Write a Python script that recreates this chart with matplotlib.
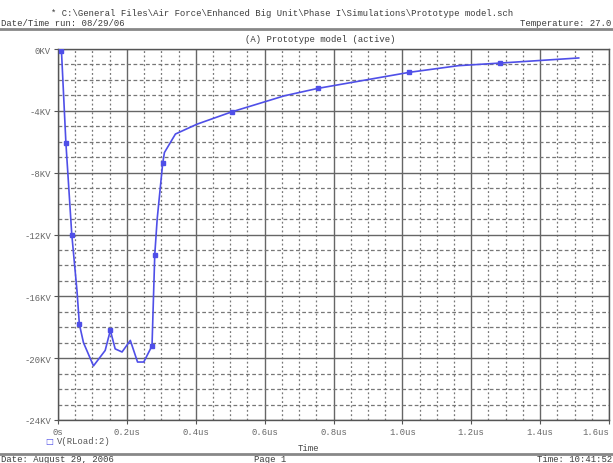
import matplotlib.pyplot as plt
from matplotlib.ticker import MultipleLocator, FuncFormatter

# V(RLoad:2), time in us, voltage in kV
t_us = [0.005, 0.010, 0.023, 0.040, 0.055, 0.062, 0.074, 0.103, 0.137, 0.152,
        0.166, 0.186, 0.210, 0.231, 0.249, 0.273, 0.281, 0.288, 0.304, 0.309,
        0.341, 0.404, 0.504, 0.657, 0.754, 1.020, 1.162, 1.284, 1.512]
v_kv = [0.0, -0.1, -6.1, -12.0, -15.6, -17.8, -19.0, -20.5, -19.5, -18.2,
        -19.4, -19.6, -18.85, -20.25, -20.25, -19.2, -13.3, -11.0, -7.4, -6.7,
        -5.5, -4.86, -4.07, -3.03, -2.55, -1.51, -1.08, -0.91, -0.58]
marker_idx = [1, 2, 3, 5, 9, 15, 16, 18, 22, 24, 25, 27]

x_ticks = [0, 0.2, 0.4, 0.6, 0.8, 1.0, 1.2, 1.4, 1.6]
y_ticks = [0, -4, -8, -12, -16, -20, -24]

mono = "Liberation Mono"
fs = 6.4
blue = "#4f4fe8"
txt = "#3a3a3a"

fig = plt.figure(figsize=(6.13, 4.64), dpi=100)
ax = fig.add_axes([58 / 613, 1 - 421 / 464, 551 / 613, 371 / 464])

ax.plot(t_us, v_kv, color=blue, lw=1.2, marker="s", ms=3,
        markevery=marker_idx, mfc=blue, mec=blue, zorder=3)

ax.set_xlim(0, 1.6)
ax.set_ylim(-24, 0)
ax.set_xticks(x_ticks)
ax.set_yticks(y_ticks)
ax.xaxis.set_minor_locator(MultipleLocator(0.05))
ax.yaxis.set_minor_locator(MultipleLocator(1))
ax.xaxis.set_major_formatter(FuncFormatter(lambda v, p: "0s" if v == 0 else f"{v:.1f}us"))
ax.yaxis.set_major_formatter(FuncFormatter(lambda v, p: f"{v:.0f}KV"))

ax.grid(which="major", color="#666666", lw=1.0, ls="-")
ax.grid(which="minor", axis="y", color="#777777", lw=0.9, ls=(0, (3, 2)))
ax.grid(which="minor", axis="x", color="#777777", lw=0.9, ls=(0, (1.5, 2)))
ax.set_axisbelow(True)

for s in ax.spines.values():
    s.set_color("#555555")
    s.set_linewidth(1.0)
ax.tick_params(which="major", length=3, width=0.8, color="#555555",
               labelsize=fs, labelcolor="#666666", pad=2)
ax.tick_params(which="minor", length=0)
for lab in ax.get_xticklabels() + ax.get_yticklabels():
    lab.set_family(mono)
# keep the last time label inside the page
ax.get_xticklabels()[-1].set_horizontalalignment("right")

# header and footer in the PSpice print style
fig.text(0.46, 1 - 14 / 464, r"* C:\General Files\Air Force\Enhanced Big Unit\Phase I\Simulations\Prototype model.sch",
         ha="center", va="center", family=mono, fontsize=fs, color=txt)
fig.text(0.002, 1 - 24 / 464, "Date/Time run: 08/29/06", ha="left", va="center",
         family=mono, fontsize=fs, color=txt)
fig.text(0.998, 1 - 24 / 464, "Temperature: 27.0", ha="right", va="center",
         family=mono, fontsize=fs, color=txt)
fig.add_artist(plt.Line2D([0, 1], [1 - 29.5 / 464] * 2, color="#888888", lw=2.0))
fig.text(320 / 613, 1 - 39 / 464, "(A) Prototype model (active)", ha="center", va="center",
         family=mono, fontsize=fs, color=txt)

fig.text(45 / 613, 1 - 442 / 464, "\u25a1", ha="left", va="center",
         fontsize=6, color=blue, fontweight="bold")
fig.text(57 / 613, 1 - 442 / 464, "V(RLoad:2)", ha="left", va="center",
         family=mono, fontsize=fs, color="#555555")
fig.text(308 / 613, 1 - 449 / 464, "Time", ha="center", va="center",
         family=mono, fontsize=fs, color="#444444")
fig.add_artist(plt.Line2D([0, 1], [1 - 454.5 / 464] * 2, color="#888888", lw=2.0))
fig.text(0.002, 1 - 459.5 / 464, "Date: August 29, 2006", ha="left", va="center",
         family=mono, fontsize=fs, color=txt)
fig.text(270 / 613, 1 - 459.5 / 464, "Page 1", ha="center", va="center",
         family=mono, fontsize=fs, color=txt)
fig.text(0.998, 1 - 459.5 / 464, "Time: 10:41:52", ha="right", va="center",
         family=mono, fontsize=fs, color=txt)

fig.savefig("out.png", dpi=100)
